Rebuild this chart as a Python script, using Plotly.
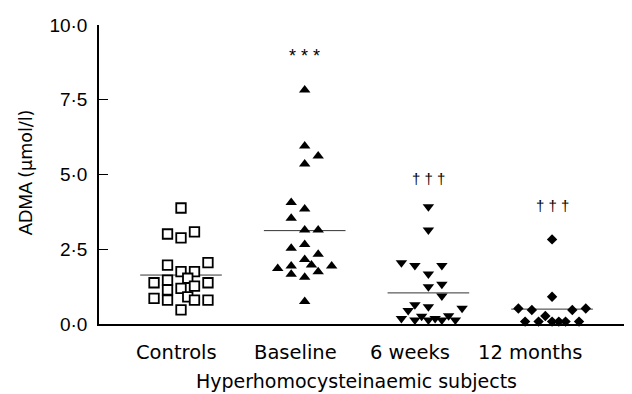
import plotly.graph_objects as go

# ---------------- data ----------------
categories = ["Controls", "Baseline", "6 weeks", "12 months"]
y_ticks = [0, 2.5, 5, 7.5, 10]
y_tick_labels = ["0·0", "2·5", "5·0", "7·5", "10·0"]

controls_vals = [3.88, 3.01, 2.88, 3.08, 1.97, 2.05, 1.75, 1.75, 1.53, 1.38, 1.47,
                 1.38, 1.27, 1.19, 1.14, 0.86, 0.80, 0.91, 0.80, 0.80, 0.47]
controls_slot = [0, -1, 0, 1, -1, 2, 0, 1, 0.5, -2, -1,
                 2, 1, 0, -1, -2, -1, 0.5, 1, 2, 0]

baseline_vals = [7.83, 5.95, 5.62, 5.35, 4.06, 3.85, 3.54, 3.14, 3.14, 2.53, 2.66,
                 2.33, 2.16, 1.86, 1.94, 1.97, 1.94, 1.66, 1.75, 1.56, 0.75]
baseline_slot = [0, 0, 1, 0, -1, 0, -1, 0, 1, -1, 0,
                 1, 0, -2, -1, 0.5, 2, -1, 1, 0, 0]

weeks6_vals = [3.92, 3.14, 2.05, 1.96, 1.96, 1.67, 1.25, 1.33, 0.94, 0.64, 0.58,
               0.53, 0.45, 0.18, 0.26, 0.13, 0.13, 0.18, 0.13, 0.28, 0.13]
weeks6_slot = [0, 0, -2, -1, 1, 0, 0, 1, 1, -1, 0,
               2.5, -1.5, -2, -0.5, -1, 0, 0.5, 1, 1.5, 2]

months12_vals = [2.83, 0.91, 0.52, 0.47, 0.47, 0.52, 0.27, 0.08, 0.08, 0.08, 0.08, 0.08, 0.08]
months12_slot = [0, 0, -2.5, -1.5, 1.5, 2.5, -0.5, -2, -1, 0, 0.5, 1, 2]

significance = ["", "* * *", "† † †", "† † †"]

# ---------------- styling ----------------
SLOT = 0.109          # horizontal step of one beeswarm column (category units)
HALF = 0.33           # half width of mean bar
groups = [
    (controls_vals, controls_slot, dict(symbol="square", size=9.5, color="white",
                                        line=dict(color="black", width=1.8))),
    (baseline_vals, baseline_slot, dict(symbol="triangle-up", size=10, color="black",
                                        line=dict(width=0))),
    (weeks6_vals, weeks6_slot, dict(symbol="triangle-down", size=10, color="black",
                                    line=dict(width=0))),
    (months12_vals, months12_slot, dict(symbol="diamond", size=8, color="black",
                                        line=dict(width=0))),
]

fig = go.Figure()
for i, (vals, slots, mk) in enumerate(groups):
    mean = sum(vals) / len(vals)
    fig.add_trace(go.Scatter(x=[i - HALF, i + HALF], y=[mean, mean], mode="lines",
                             line=dict(color="#333333", width=1), showlegend=False,
                             hoverinfo="skip", cliponaxis=False))
    fig.add_trace(go.Scatter(x=[i + s * SLOT for s in slots], y=vals, mode="markers",
                             marker=mk, showlegend=False, cliponaxis=False,
                             name=categories[i]))

annotations = []
# category labels (placed slightly left of cluster centres as in the original)
label_x = [-0.04, 0.925, 1.855, 2.82]
for lx, name in zip(label_x, categories):
    annotations.append(dict(x=lx, y=-0.095, xref="x", yref="paper", text=name,
                            showarrow=False, xanchor="center", yanchor="middle",
                            font=dict(family="DejaVu Sans", size=19.5, color="black")))
# significance markers
sig_y = [None, 8.95, 4.88, 3.98]
for i, (txt, sy) in enumerate(zip(significance, sig_y)):
    if txt:
        annotations.append(dict(x=i, y=sy, xref="x", yref="y", text=txt, showarrow=False,
                                xanchor="center", yanchor="middle",
                                font=dict(family="Liberation Sans",
                                          size=18 if "*" in txt else 15, color="black")))
# axis titles
annotations.append(dict(x=0.484, y=-0.19, xref="paper", yref="paper",
                        text="Hyperhomocysteinaemic subjects", showarrow=False,
                        xanchor="center", yanchor="middle",
                        font=dict(family="DejaVu Sans", size=19, color="black")))
annotations.append(dict(x=-0.139, y=0.508, xref="paper", yref="paper",
                        text='ADMA <span style="font-family:DejaVu Sans;font-size:17.5px">(µmol/l)</span>',
                        textangle=-90, showarrow=False, xanchor="center", yanchor="middle",
                        font=dict(family="Liberation Sans", size=18.5, color="black")))

# page body has an 8px margin, so the figure is 8px smaller and margins shifted
fig.update_layout(
    width=624, height=386,
    margin=dict(l=91, r=2, t=17, b=70),
    plot_bgcolor="white", paper_bgcolor="white",
    annotations=annotations,
    xaxis=dict(range=[-0.663, 3.63], showgrid=False, zeroline=False, showticklabels=False,
               ticks="", showline=True, linecolor="black", linewidth=1.5, fixedrange=True),
    yaxis=dict(range=[0, 10], tickvals=y_ticks, ticktext=y_tick_labels, ticks="inside",
               ticklen=9, tickwidth=1, tickcolor="black", showgrid=False, zeroline=False,
               showline=True, linecolor="black", linewidth=1.5, ticklabelstandoff=6,
               tickfont=dict(family="Liberation Sans", size=19, color="black")),
)

fig.write_html("out.html")
